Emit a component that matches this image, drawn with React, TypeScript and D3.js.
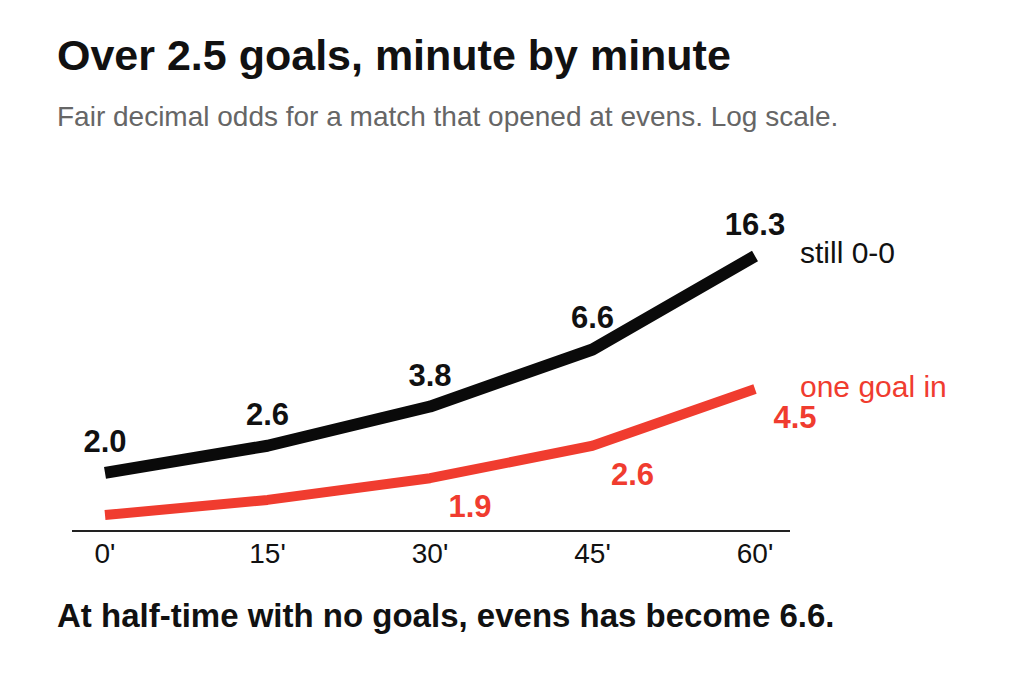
import React from 'react'
import * as d3 from 'd3'

const minutes = [0, 15, 30, 45, 60]
const tickLabels = ["0'", "15'", "30'", "45'", "60'"]
const stillNil = [2.0, 2.6, 3.8, 6.6, 16.3]
const oneGoal = [1.33, 1.54, 1.9, 2.6, 4.5]
// only the last three red points are labelled
const oneGoalLabelled = [false, false, true, true, true]

const W = 1024
const H = 682
const FONT = '"Liberation Sans", Arial, sans-serif'
const BLACK = '#111111'
const RED = '#f03c2f'

const x = d3.scaleLinear().domain([0, 60]).range([105, 755])
const y = d3.scaleLog().domain([1.14, 16.3]).range([531, 256])

const line = d3.line<number>()
  .x((_, i) => x(minutes[i]))
  .y(d => y(d))

const App = () => {
  return (
    <svg width={W} height={H} viewBox={`0 0 ${W} ${H}`}
      style={{ position: 'absolute', left: 0, top: 0, background: '#fff' }}
      fontFamily={FONT}>
      <text x={57} y={70} fontSize={43} fontWeight='bold' fill={BLACK}>
        Over 2.5 goals, minute by minute
      </text>
      <text x={57} y={126} fontSize={28} fill='#666'>
        Fair decimal odds for a match that opened at evens. Log scale.
      </text>

      {/* baseline axis */}
      <line x1={72} x2={790} y1={531} y2={531} stroke='#222' strokeWidth={2} />
      {minutes.map((m, i) => (
        <text key={m} x={x(m)} y={563} textAnchor='middle' fontSize={28} fill={BLACK}>
          {tickLabels[i]}
        </text>
      ))}

      <path d={line(oneGoal) ?? ''} fill='none' stroke={RED} strokeWidth={10} strokeLinejoin='round' />
      <path d={line(stillNil) ?? ''} fill='none' stroke='#0a0a0a' strokeWidth={12} strokeLinejoin='round' />

      {stillNil.map((v, i) => (
        <text key={`b${i}`} x={x(minutes[i])} y={y(v) - 21} textAnchor='middle'
          fontSize={31} fontWeight='bold' fill={BLACK}>
          {v.toFixed(1)}
        </text>
      ))}
      {oneGoal.map((v, i) => oneGoalLabelled[i] ? (
        <text key={`r${i}`} x={x(minutes[i]) + 40} y={y(v) + 39} textAnchor='middle'
          fontSize={31} fontWeight='bold' fill={RED}>
          {v.toFixed(1)}
        </text>
      ) : null)}

      <text x={800} y={y(stillNil[4]) + 7} fontSize={30} fill={BLACK}>still 0-0</text>
      <text x={800} y={y(oneGoal[4]) + 8} fontSize={30} fill={RED}>one goal in</text>

      <text x={57} y={627} fontSize={33} fontWeight='bold' fill={BLACK}>
        At half-time with no goals, evens has become 6.6.
      </text>
    </svg>
  )
}

export default App
